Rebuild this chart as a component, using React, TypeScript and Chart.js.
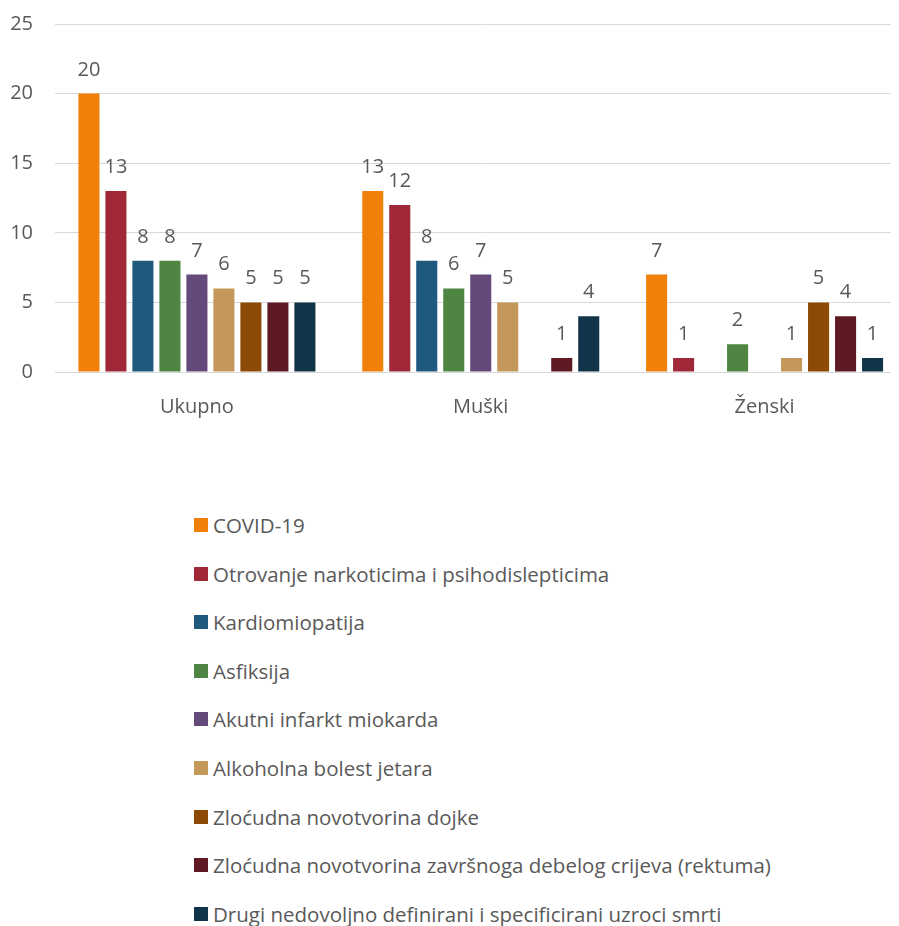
import React, { useEffect, useRef } from "react";
import { Chart, registerables } from "chart.js";

Chart.register(...registerables);

const categories = ["Ukupno", "Muški", "Ženski"];
const seriesNames = [
  "COVID-19",
  "Otrovanje narkoticima i psihodislepticima",
  "Kardiomiopatija",
  "Asfiksija",
  "Akutni infarkt miokarda",
  "Alkoholna bolest jetara",
  "Zloćudna novotvorina dojke",
  "Zloćudna novotvorina završnoga debelog crijeva (rektuma)",
  "Drugi nedovoljno definirani i specificirani uzroci smrti",
];
const seriesColors = [
  "#F0800A",
  "#A02838",
  "#1F5A7E",
  "#4E8542",
  "#634A7A",
  "#C4975A",
  "#8C4A06",
  "#5E1A22",
  "#12344A",
];
const covid = [20, 13, 7];
const otrovanje = [13, 12, 1];
const kardiomiopatija = [8, 8, null];
const asfiksija = [8, 6, 2];
const infarkt = [7, 7, null];
const alkohol = [6, 5, 1];
const dojka = [5, null, 5];
const rektum = [5, 1, 4];
const drugi = [5, 4, 1];
const seriesValues = [covid, otrovanje, kardiomiopatija, asfiksija, infarkt, alkohol, dojka, rektum, drugi];
const yMin = 0;
const yMax = 25;
const yStep = 5;

const FONT = "'Open Sans', sans-serif";
const TEXT = "#595959";

const valueLabels = {
  id: "valueLabels",
  afterDatasetsDraw(chart: any) {
    const ctx = chart.ctx;
    ctx.save();
    ctx.font = `20px ${FONT}`;
    ctx.fillStyle = TEXT;
    ctx.textAlign = "center";
    ctx.textBaseline = "alphabetic";
    chart.data.datasets.forEach((ds: any, i: number) => {
      const meta = chart.getDatasetMeta(i);
      meta.data.forEach((el: any, j: number) => {
        const v = ds.data[j];
        if (v === null || v === undefined) return;
        ctx.fillText(String(v), el.x, el.y - 18);
      });
    });
    ctx.restore();
  },
};

export default function App() {
  const ref = useRef<HTMLCanvasElement | null>(null);
  useEffect(() => {
    if (!ref.current) return;
    const chart = new Chart(ref.current, {
      type: "bar",
      data: {
        labels: categories,
        datasets: seriesNames.map((name, i) => ({
          label: name,
          data: seriesValues[i],
          backgroundColor: seriesColors[i],
          borderWidth: 0,
          categoryPercentage: 0.856,
          barPercentage: 0.78,
        })),
      },
      options: {
        animation: false,
        responsive: false,
        maintainAspectRatio: false,
        layout: { padding: { top: 24, right: 3.5, bottom: 0, left: 0 } },
        plugins: {
          legend: { display: false },
          tooltip: { enabled: false },
        },
        scales: {
          x: {
            grid: { display: false, drawTicks: false },
            border: { display: true, color: "#d9d9d9" },
            ticks: { color: TEXT, font: { family: FONT, size: 20 }, padding: 23 },
            afterFit: (s: any) => {
              s.height = 60;
            },
          },
          y: {
            min: yMin,
            max: yMax,
            grid: { color: "#d9d9d9", drawTicks: true, tickLength: 19, tickColor: "rgba(0,0,0,0)", lineWidth: 1 },
            border: { display: false },
            ticks: { stepSize: yStep, color: TEXT, font: { family: FONT, size: 20 }, padding: 3 },
            afterFit: (s: any) => {
              s.width = 55;
            },
          },
        },
      },
      plugins: [valueLabels],
    });
    return () => chart.destroy();
  }, []);

  const legendTop = 525;
  const legendGap = 48.6;

  return (
    <div
      style={{
        position: "relative",
        margin: "-8px 0 0 -8px",
        width: 899,
        height: 926,
        overflow: "hidden",
        background: "#fff",
      }}
    >
      <canvas ref={ref} width={910} height={432} style={{ position: "absolute", left: 0, top: 0, width: 910, height: 432 }} />
      {seriesNames.map((name, i) => (
        <div
          key={name}
          style={{
            position: "absolute",
            left: 194,
            top: legendTop + i * legendGap - 13,
            height: 26,
            display: "flex",
            alignItems: "center",
            fontFamily: FONT,
            fontSize: 20.5,
            color: TEXT,
            whiteSpace: "nowrap",
          }}
        >
          <span style={{ display: "inline-block", width: 14, height: 14, background: seriesColors[i], marginRight: 5 }} />
          <span>{name}</span>
        </div>
      ))}
    </div>
  );
}
